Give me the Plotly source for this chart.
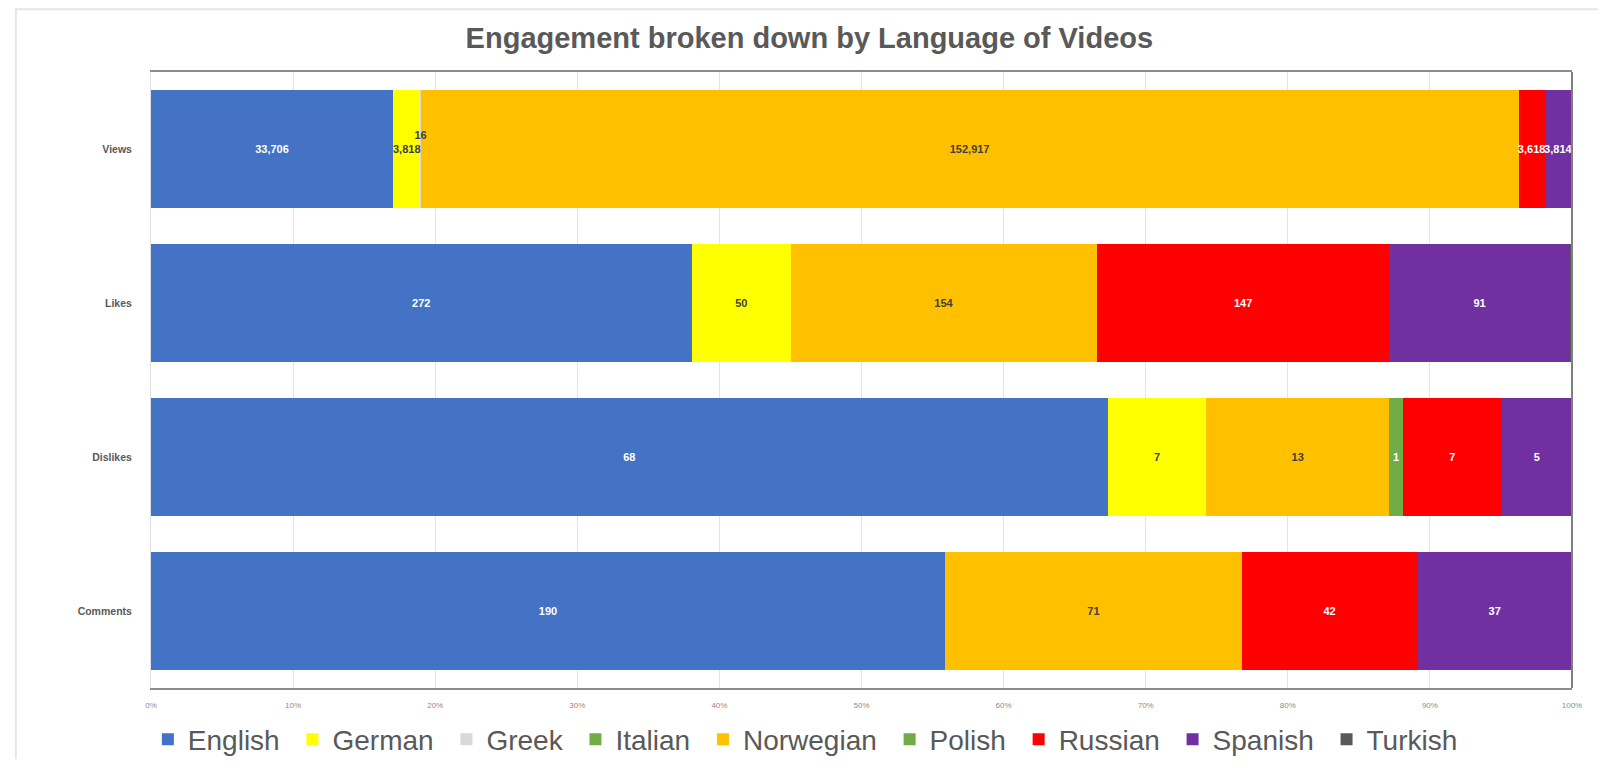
import plotly.graph_objects as go

# Engagement je Sprache (absolute Werte, Darstellung als 100%-Balken)
metrics = ["Views", "Likes", "Dislikes", "Comments"]
languages = ["English", "German", "Greek", "Italian", "Norwegian",
             "Polish", "Russian", "Spanish", "Turkish"]

english = [33706, 272, 68, 190]
german = [3818, 50, 7, 0]
greek = [16, 0, 0, 0]
italian = [0, 0, 0, 0]
norwegian = [152917, 154, 13, 71]
polish = [0, 0, 1, 0]
russian = [3618, 147, 7, 42]
spanish = [3814, 91, 5, 37]
turkish = [0, 1, 0, 0]

series = [english, german, greek, italian, norwegian,
          polish, russian, spanish, turkish]
colors = ["#4472C4", "#FFFF00", "#D9D9D9", "#70AD47", "#FFC000",
          "#70AD47", "#FF0000", "#7030A0", "#595959"]
label_colors = ["white", "#404040", "#404040", "white", "#404040",
                "white", "white", "white", "white"]


def make_labels(name, vals):
    out = []
    for v in vals:
        if v == 0 or name == "Turkish":
            out.append("")
        elif name == "Greek":
            out.append(f"<b>{v:,}</b><br> <br> ")
        else:
            out.append(f"<b>{v:,}</b>")
    return out


fig = go.Figure()

# farbige Balken
for name, vals, col in zip(languages, series, colors):
    fig.add_trace(
        go.Bar(
            y=metrics,
            x=[v if v else None for v in vals],
            name=name + "\u00a0",
            orientation="h",
            marker=dict(color=col, line=dict(width=0)),
            hoverinfo="x+name",
        )
    )

# Beschriftungen auf eigener Ebene, damit sie nicht verdeckt werden
for name, vals, tcol in zip(languages, series, label_colors):
    fig.add_trace(
        go.Bar(
            y=metrics,
            x=[v if v else None for v in vals],
            name=name,
            orientation="h",
            xaxis="x2",
            marker=dict(color="rgba(0,0,0,0)", line=dict(width=0)),
            text=make_labels(name, vals),
            texttemplate="%{text}",
            textposition="inside",
            insidetextanchor="middle",
            textangle=0,
            textfont=dict(size=11, color=tcol, family="Liberation Sans"),
            cliponaxis=False,
            showlegend=False,
            hoverinfo="skip",
        )
    )

fig.update_layout(
    width=1590,
    height=751,
    barmode="stack",
    barnorm="percent",
    bargap=0.23,
    paper_bgcolor="white",
    plot_bgcolor="white",
    margin=dict(l=143, r=26, t=64, b=71),
    uniformtext=dict(minsize=11, mode="show"),
    title=dict(
        text="<b>Engagement broken down by Language of Videos</b>",
        x=0.504,
        xref="container",
        xanchor="center",
        y=0.96,
        yanchor="middle",
        font=dict(size=29, color="#595959", family="Liberation Sans"),
    ),
    xaxis=dict(
        range=[0, 100],
        dtick=10,
        ticksuffix="%",
        tickfont=dict(size=8, color="#8C8C8C", family="Liberation Sans"),
        showgrid=True,
        gridcolor="#E4E4E4",
        gridwidth=1,
        showline=True,
        linecolor="#8C8C8C",
        linewidth=2,
        mirror=True,
        zeroline=False,
        ticks="",
        ticklabelstandoff=8,
        automargin=False,
    ),
    xaxis2=dict(
        range=[0, 100],
        overlaying="x",
        visible=False,
        automargin=False,
    ),
    yaxis=dict(
        autorange="reversed",
        tickfont=dict(size=10.5, color="#595959", family="Liberation Sans"),
        showline=True,
        linecolor="#E0E0E0",
        linewidth=1,
        ticks="",
        ticklabelstandoff=16,
        automargin=False,
    ),
    legend=dict(
        orientation="h",
        xref="container",
        yref="container",
        x=0.504,
        xanchor="center",
        y=0.026,
        yanchor="middle",
        bgcolor="rgba(0,0,0,0)",
        font=dict(size=28, color="#595959", family="Liberation Sans"),
        traceorder="normal",
        itemwidth=30,
        tracegroupgap=0,
    ),
    shapes=[
        dict(type="line", xref="paper", yref="paper", x0=1, x1=1, y0=0, y1=1,
             line=dict(color="#7F7F7F", width=2)),
        dict(type="rect", xref="paper", yref="paper",
             x0=-0.0951, x1=1.03, y0=-0.14, y1=1.102,
             line=dict(color="#E6E6E6", width=2), layer="below"),
    ],
)
fig.update_yaxes(tickmode="array", tickvals=metrics,
                 ticktext=[f"<b>{m}</b>" for m in metrics])

fig.write_html("out.html")
